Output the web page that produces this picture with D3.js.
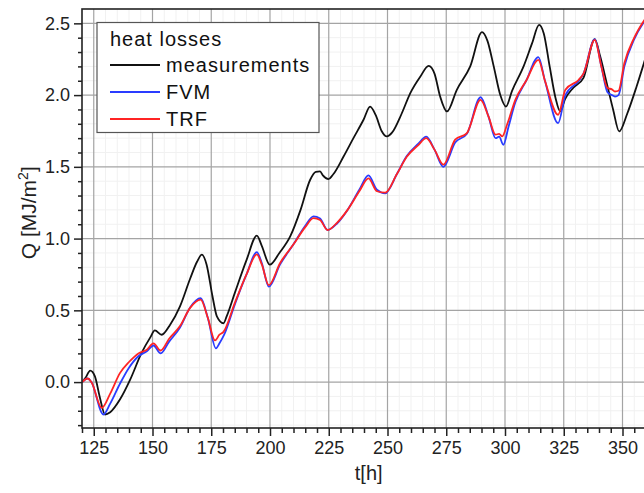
<!DOCTYPE html>
<html>
<head>
<meta charset="utf-8">
<script src="https://cdn.jsdelivr.net/npm/d3@7"></script>
<style>
  html, body { margin: 0; padding: 0; background: #fff; }
  svg { display: block; font-family: "Liberation Sans", Arial, sans-serif; }
</style>
</head>
<body>
<svg id="chart" width="644" height="493"></svg>
<script>
// Heat losses over time: measured vs. FVM and TRF models
const seriesNames = ["measurements", "FVM", "TRF"];
const seriesColors = ["#111111", "#2a3cff", "#ff2424"];

const hoursMeas = [120, 121.5, 123.5, 125.5, 127.5, 129.8, 132, 136.2, 140.5, 145.4, 149, 151, 153.9, 157.5,
  161.7, 166, 169, 171, 173, 175.5, 177.4, 180.2, 181.6, 185, 190, 194.4, 196.5, 199.9, 204, 208.6,
  213, 217.1, 219.5, 221.3, 222.5, 224.9, 227, 231.3, 235.5, 239.8, 242.6, 245, 247.5, 249.7, 252,
  256, 259.7, 264, 267.5, 270, 272.4, 275.3, 279.5, 285.2, 290.2, 292.5, 295.2, 298, 300.4, 303,
  307.9, 311.5, 314.5, 316.5, 319, 321.5, 323.5, 325.5, 329, 333.4, 338.2, 340.5, 343.3, 346, 348.6,
  352, 356, 360];
const qMeas = [0.0, 0.03, 0.08, 0.04, -0.1, -0.226, -0.21, -0.12, 0.017, 0.205, 0.31, 0.36, 0.33, 0.4,
  0.528, 0.72, 0.84, 0.888, 0.82, 0.6, 0.458, 0.41, 0.46, 0.62, 0.85, 1.02, 0.95, 0.818, 0.9, 1.015,
  1.2, 1.41, 1.465, 1.468, 1.44, 1.415, 1.45, 1.572, 1.7, 1.828, 1.92, 1.86, 1.75, 1.712, 1.74,
  1.87, 2.014, 2.13, 2.204, 2.15, 1.99, 1.886, 2.037, 2.2, 2.439, 2.38, 2.2, 2.0, 1.92, 2.03,
  2.2, 2.36, 2.49, 2.43, 2.2, 1.98, 1.886, 1.97, 2.05, 2.12, 2.39, 2.27, 2.083, 1.9, 1.747,
  1.87, 2.06, 2.27];

const hoursFvm = [120, 122.5, 124, 129.1, 132, 136.2, 140, 144, 147.6, 150.4, 153.5, 157, 161.7, 166,
  170.5, 173.5, 177, 178.5, 180.5, 185, 190, 194.4, 196.5, 199.5, 204.3, 210, 215, 218.5, 221.3,
  224.5, 228.5, 233, 238, 241.9, 245.5, 249, 254, 258.2, 263, 266.5, 270, 273.8, 278.8, 283.8,
  289.6, 293, 296, 297.5, 299.3, 301.5, 304.4, 309, 314.2, 317, 322.6, 325.7, 331.4, 333.4, 338.2,
  341, 343.6, 345.5, 346.8, 348.3, 350.8, 355, 360];
const qFvm = [0.0, 0.025, 0.0, -0.226, -0.15, -0.01, 0.1, 0.18, 0.215, 0.255, 0.2, 0.28, 0.38, 0.52,
  0.585, 0.45, 0.235, 0.27, 0.33, 0.54, 0.75, 0.905, 0.83, 0.665, 0.82, 0.96, 1.09, 1.155, 1.14,
  1.06, 1.105, 1.2, 1.34, 1.44, 1.34, 1.315, 1.45, 1.575, 1.66, 1.71, 1.62, 1.5, 1.67, 1.73,
  1.985, 1.85, 1.7, 1.71, 1.654, 1.78, 1.95, 2.1, 2.265, 2.1, 1.805, 2.0, 2.1, 2.15, 2.39,
  2.2, 2.02, 2.0, 1.99, 2.0, 2.2, 2.39, 2.53];

const hoursTrf = [120, 122.5, 124, 128.4, 132, 136.2, 140, 144, 147.6, 150.4, 153.5, 157, 161.7, 166,
  170.5, 173.5, 176.6, 178.5, 180.2, 185, 190, 194.4, 196.5, 199.5, 204.3, 210, 215, 218.5, 221.3,
  224.5, 228.5, 233, 238, 241.9, 245.5, 249, 254, 258.2, 263, 266.5, 270, 273.8, 278.8, 283.8,
  289.6, 293, 296, 297.5, 298.8, 301, 304.4, 309, 314.2, 317, 322.6, 325.7, 331.4, 333.4, 338.2,
  341, 343.6, 345.5, 346.8, 348.3, 350.8, 355, 360];
const qTrf = [0.0, 0.025, 0.0, -0.18, -0.08, 0.064, 0.14, 0.2, 0.226, 0.27, 0.22, 0.3, 0.39, 0.517,
  0.575, 0.45, 0.29, 0.33, 0.35, 0.55, 0.75, 0.89, 0.82, 0.675, 0.83, 0.96, 1.08, 1.143, 1.13,
  1.06, 1.11, 1.2, 1.33, 1.42, 1.33, 1.32, 1.45, 1.57, 1.65, 1.7, 1.62, 1.515, 1.689, 1.735,
  1.967, 1.85, 1.724, 1.73, 1.712, 1.8, 1.967, 2.1, 2.246, 2.1, 1.863, 2.037, 2.107, 2.15, 2.385,
  2.2, 2.049, 2.04, 2.025, 2.03, 2.223, 2.4, 2.54];

const xTicks = [125, 150, 175, 200, 225, 250, 275, 300, 325, 350];
const yTicks = [0.0, 0.5, 1.0, 1.5, 2.0, 2.5];

const svg = d3.select("#chart");
const W = 644, H = 493;
const plot = { left: 82, top: 9, right: 646, bottom: 428 };

const x = d3.scaleLinear().domain([120, 360]).range([plot.left, plot.right]);
const y = d3.scaleLinear().domain([-0.32, 2.6]).range([plot.bottom, plot.top]);

svg.append("rect").attr("width", W).attr("height", H).attr("fill", "#fff");

svg.append("defs").append("clipPath").attr("id", "plotClip")
  .append("rect")
  .attr("x", plot.left).attr("y", plot.top)
  .attr("width", plot.right - plot.left).attr("height", plot.bottom - plot.top);

// Minor grid
const xMinor = d3.range(120, 361, 5).filter(v => v % 25 !== 0);
const yMinor = d3.range(-3, 26).map(v => v / 10).filter(v => Math.abs(v * 2 - Math.round(v * 2)) > 1e-6);
const grid = svg.append("g");
grid.selectAll(".gxm").data(xMinor).join("line")
  .attr("x1", d => x(d)).attr("x2", d => x(d))
  .attr("y1", plot.top).attr("y2", plot.bottom)
  .attr("stroke", "#f1f1f1").attr("stroke-width", 1);
grid.selectAll(".gym").data(yMinor).join("line")
  .attr("x1", plot.left).attr("x2", plot.right)
  .attr("y1", d => y(d)).attr("y2", d => y(d))
  .attr("stroke", "#f1f1f1").attr("stroke-width", 1);
// Major grid
grid.selectAll(".gx").data(xTicks).join("line")
  .attr("x1", d => x(d)).attr("x2", d => x(d))
  .attr("y1", plot.top).attr("y2", plot.bottom)
  .attr("stroke", "#a4a4a4").attr("stroke-width", 1.2);
grid.selectAll(".gy").data(yTicks).join("line")
  .attr("x1", plot.left).attr("x2", plot.right)
  .attr("y1", d => y(d)).attr("y2", d => y(d))
  .attr("stroke", "#a4a4a4").attr("stroke-width", 1.2);

// Series
const series = [
  { name: seriesNames[0], color: seriesColors[0], t: hoursMeas, q: qMeas },
  { name: seriesNames[1], color: seriesColors[1], t: hoursFvm, q: qFvm },
  { name: seriesNames[2], color: seriesColors[2], t: hoursTrf, q: qTrf }
];
const line = d3.line()
  .x(d => x(d[0])).y(d => y(d[1]))
  .curve(d3.curveMonotoneX);
const lines = svg.append("g").attr("clip-path", "url(#plotClip)");
series.forEach(s => {
  lines.append("path")
    .datum(s.t.map((t, i) => [t, s.q[i]]))
    .attr("fill", "none")
    .attr("stroke", s.color)
    .attr("stroke-width", 1.8)
    .attr("stroke-linejoin", "round")
    .attr("d", line);
});

// Axes
const axisFont = 18;
const yAxis = svg.append("g").attr("transform", `translate(${plot.left},0)`)
  .call(d3.axisLeft(y).tickValues(yTicks).tickFormat(d3.format(".1f")).tickSize(8).tickPadding(4));
const yAxisMinor = svg.append("g").attr("transform", `translate(${plot.left},0)`)
  .call(d3.axisLeft(y).tickValues(yMinor).tickFormat("").tickSize(4));
const xAxis = svg.append("g").attr("transform", `translate(0,${plot.bottom})`)
  .call(d3.axisBottom(x).tickValues(xTicks).tickFormat(d3.format("d")).tickSize(8).tickPadding(5));
const xAxisMinor = svg.append("g").attr("transform", `translate(0,${plot.bottom})`)
  .call(d3.axisBottom(x).tickValues(xMinor).tickFormat("").tickSize(5));

[yAxis, yAxisMinor, xAxis, xAxisMinor].forEach(g => {
  g.select(".domain").remove();
  g.selectAll(".tick line").attr("stroke", "#222").attr("stroke-width", 1.5);
  g.selectAll(".tick text").attr("fill", "#222").style("font-size", axisFont + "px")
    .style("font-family", "'Liberation Sans', Arial, sans-serif");
});

// Frame
svg.append("rect")
  .attr("x", plot.left).attr("y", plot.top)
  .attr("width", plot.right - plot.left).attr("height", plot.bottom - plot.top)
  .attr("fill", "none").attr("stroke", "#222").attr("stroke-width", 1.6);

// Axis titles
svg.append("text")
  .attr("x", x(242)).attr("y", 480)
  .attr("text-anchor", "middle")
  .style("font-size", "20px").attr("fill", "#222")
  .text("t[h]");

const yTitle = svg.append("text")
  .attr("transform", `translate(36,${y(1.18)}) rotate(-90)`)
  .attr("text-anchor", "middle")
  .style("font-size", "21px").attr("fill", "#222");
yTitle.append("tspan").text("Q [MJ/m");
yTitle.append("tspan").attr("dy", -8).style("font-size", "14px").text("2");
yTitle.append("tspan").attr("dy", 8).text("]");

// Legend
const lg = svg.append("g");
lg.append("rect")
  .attr("x", 97).attr("y", 22.5).attr("width", 222).attr("height", 110)
  .attr("fill", "#fff").attr("stroke", "#555").attr("stroke-width", 1.2);
lg.append("text").attr("x", 110).attr("y", 46)
  .style("font-size", "20px").style("letter-spacing", "1px").attr("fill", "#111")
  .text("heat losses");
series.forEach((s, i) => {
  const yy = 65 + i * 27;
  lg.append("line").attr("x1", 110).attr("x2", 160).attr("y1", yy).attr("y2", yy)
    .attr("stroke", s.color).attr("stroke-width", 1.8);
  lg.append("text").attr("x", 166).attr("y", yy + 7)
    .style("font-size", "20px").style("letter-spacing", "1px").attr("fill", "#111")
    .text(s.name);
});
</script>
</body>
</html>
